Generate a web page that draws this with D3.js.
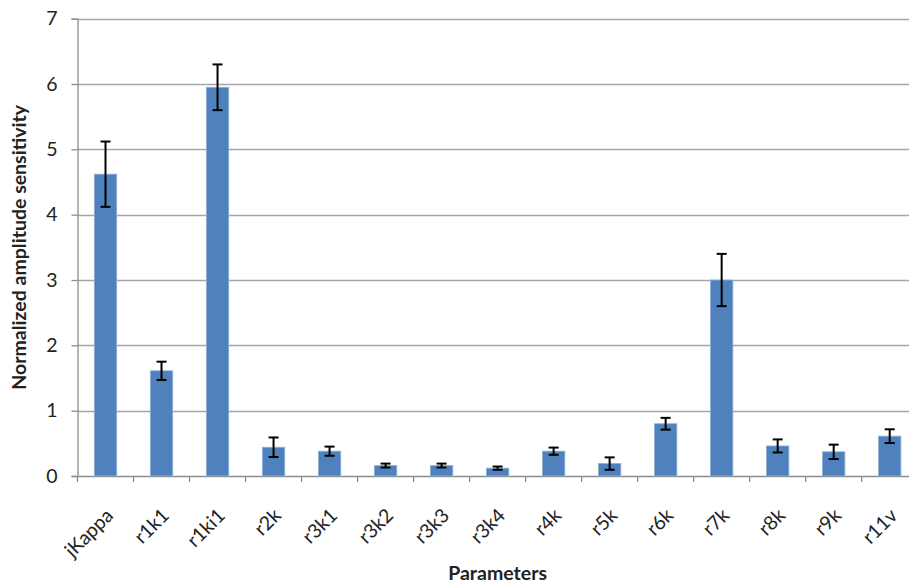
<!DOCTYPE html>
<html>
<head>
<meta charset="utf-8">
<script src="https://cdn.jsdelivr.net/npm/d3@7/dist/d3.min.js"></script>
<style>
  html, body { margin: 0; padding: 0; background: #fff; }
  svg { display: block; }
</style>
</head>
<body>
<svg id="chart" width="909" height="586"></svg>
<script>
const categories = ["jKappa", "r1k1", "r1ki1", "r2k", "r3k1", "r3k2", "r3k3", "r3k4", "r4k", "r5k", "r6k", "r7k", "r8k", "r9k", "r11v"];
const values = [4.62, 1.61, 5.95, 0.44, 0.38, 0.16, 0.16, 0.12, 0.38, 0.19, 0.80, 3.00, 0.46, 0.37, 0.61];
const errors = [0.50, 0.14, 0.35, 0.15, 0.07, 0.03, 0.03, 0.025, 0.055, 0.095, 0.09, 0.40, 0.10, 0.11, 0.105];
const yTicks = [0, 1, 2, 3, 4, 5, 6, 7];
const xTitle = "Parameters";
const yTitle = "Normalized amplitude sensitivity";

const svg = d3.select("#chart");
const mLeft = 77.5, mRight = 917.7, mTop = 18.7, mBottom = 476;
const font = "Lato, 'Open Sans', sans-serif";

const x = d3.scaleBand().domain(categories).range([mLeft, mRight]).paddingInner(0.6).paddingOuter(0.3);
const xb = d3.scaleBand().domain(categories).range([mLeft, mRight]);
const y = d3.scaleLinear().domain([0, 7]).range([mBottom, mTop]);

// gridlines
svg.append("g").selectAll("line").data(yTicks.filter(d => d > 0)).join("line")
  .attr("x1", mLeft).attr("x2", 909)
  .attr("y1", d => Math.round(y(d)) + 0.5).attr("y2", d => Math.round(y(d)) + 0.5)
  .attr("stroke", "#a6a6a6").attr("stroke-width", 1.3);

// y axis
const yAxis = svg.append("g").attr("transform", `translate(${mLeft},0)`)
  .call(d3.axisLeft(y).tickValues(yTicks).tickSize(6).tickPadding(14).tickFormat(d3.format("d")));
yAxis.select(".domain").attr("stroke", "#8c8c8c").attr("stroke-width", 1.3);
yAxis.selectAll(".tick line").attr("stroke", "#8c8c8c").attr("stroke-width", 1.3);
yAxis.selectAll(".tick text").attr("font-family", font).attr("font-size", 19.5).attr("fill", "#222");

// x axis
const xAxis = svg.append("g").attr("transform", `translate(0,${mBottom})`)
  .call(d3.axisBottom(xb).tickSize(0).tickFormat(""));
xAxis.select(".domain").attr("stroke", "#8c8c8c").attr("stroke-width", 1.3);
// boundary ticks
svg.append("g").selectAll("line").data(categories).join("line")
  .attr("x1", d => xb(d)).attr("x2", d => xb(d))
  .attr("y1", mBottom).attr("y2", mBottom + 6)
  .attr("stroke", "#8c8c8c").attr("stroke-width", 1.3);

// x tick labels
svg.append("g").selectAll("text").data(categories).join("text")
  .attr("transform", d => `translate(${xb(d) + xb.bandwidth() / 2 + 4},${mBottom + 36}) rotate(-45)`)
  .attr("text-anchor", "end")
  .attr("dy", "0.35em")
  .attr("font-family", font).attr("font-size", 19.5).attr("fill", "#222")
  .text(d => d);

// bars
svg.append("g").selectAll("rect").data(categories).join("rect")
  .attr("x", d => x(d)).attr("width", x.bandwidth())
  .attr("y", (d, i) => y(values[i])).attr("height", (d, i) => y(0) - y(values[i]))
  .attr("fill", "#4f81bd").attr("stroke", "#8fb0d8").attr("stroke-width", 0.8);

// error bars
const eg = svg.append("g").attr("stroke", "#000").attr("stroke-width", 2);
categories.forEach((c, i) => {
  const cx = x(c) + x.bandwidth() / 2;
  const y1 = y(values[i] + errors[i]), y2 = y(values[i] - errors[i]);
  eg.append("line").attr("x1", cx).attr("x2", cx).attr("y1", y1).attr("y2", y2);
  eg.append("line").attr("x1", cx - 5).attr("x2", cx + 5).attr("y1", y1).attr("y2", y1);
  eg.append("line").attr("x1", cx - 5).attr("x2", cx + 5).attr("y1", y2).attr("y2", y2);
});

// titles
svg.append("text").attr("x", (mLeft + mRight) / 2).attr("y", 580)
  .attr("text-anchor", "middle").attr("font-family", font).attr("font-weight", "bold")
  .attr("font-size", 19.5).attr("fill", "#222").text(xTitle);
svg.append("text").attr("transform", `translate(26,${(mTop + mBottom) / 2}) rotate(-90)`)
  .attr("text-anchor", "middle").attr("font-family", font).attr("font-weight", "bold")
  .attr("font-size", 19.5).attr("fill", "#222").text(yTitle);
</script>
</body>
</html>
